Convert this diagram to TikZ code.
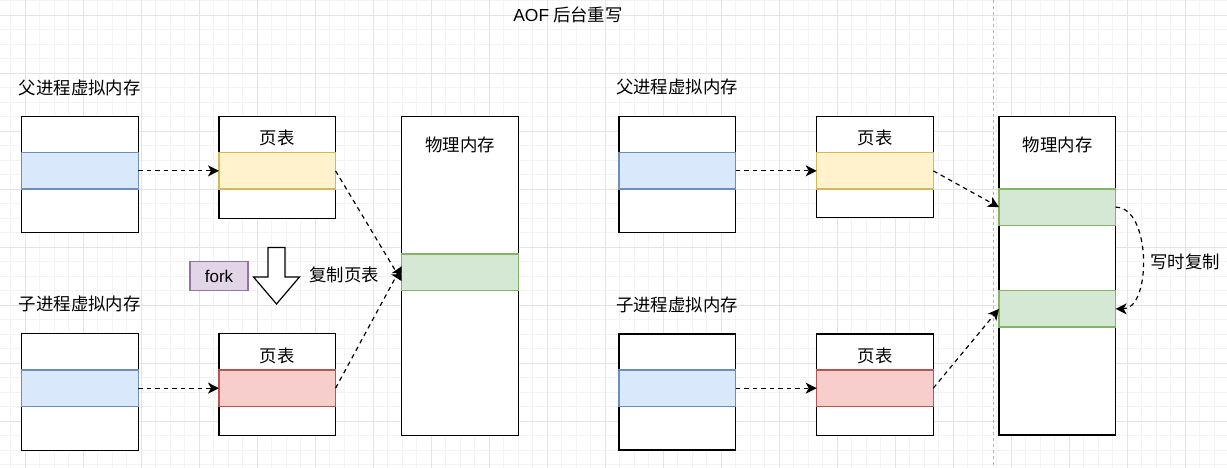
\documentclass[tikz,border=0pt]{standalone}
\usepackage{fontspec}
\setmainfont{Noto Sans CJK SC}
\newfontfamily\lat{Liberation Sans}
\usetikzlibrary{arrows.meta,calc}
\definecolor{gridminor}{HTML}{F3F3F3}
\definecolor{gridmajor}{HTML}{E4E4E4}
\definecolor{bluef}{HTML}{DAE8FC}\definecolor{blues}{HTML}{6C8EBF}
\definecolor{yelf}{HTML}{FFF2CC}\definecolor{yels}{HTML}{D6B656}
\definecolor{redf}{HTML}{F8CECC}\definecolor{reds}{HTML}{B85450}
\definecolor{grnf}{HTML}{D5E8D4}\definecolor{grns}{HTML}{82B366}
\definecolor{purf}{HTML}{E1D5E7}\definecolor{purs}{HTML}{9673A6}
\tikzset{
  base/.style={font=\fontsize{17.4}{20}\selectfont, inner sep=0pt, outer sep=0pt},
  box/.style={base, draw=black, fill=white, line width=1.2pt, minimum width=116.6pt, anchor=north west},
  strip/.style={base, line width=1.2pt, minimum width=116.6pt, minimum height=36.3pt, anchor=north west},
  bluestrip/.style={strip, draw=blues, fill=bluef},
  yelstrip/.style={strip, draw=yels, fill=yelf},
  redstrip/.style={strip, draw=reds, fill=redf},
  grnstrip/.style={strip, draw=grns, fill=grnf},
  lbl/.style={base, anchor=west},
  ctext/.style={base},
  link/.style={dashed, dash pattern=on 4.5pt off 4pt, line width=1.2pt, -{Stealth[length=11pt,width=11pt,inset=3pt]}},
}
\begin{document}
\begin{tikzpicture}[x=1pt,y=-1pt]
\useasboundingbox (0,0) rectangle (1227,468);
\fill[white] (0,0) rectangle (1227,468);
% grid
\foreach \i in {0,...,84} \draw[gridminor, line width=0.8pt] ({10.5+14.5*\i},0) -- ++(0,468);
\foreach \i in {0,...,32} \draw[gridminor, line width=0.8pt] (0,{0.5+14.5*\i}) -- ++(1227,0);
\foreach \i in {0,...,20} \draw[gridmajor, line width=0.8pt] ({25+58*\i},0) -- ++(0,468);
\foreach \i in {0,...,7} \draw[gridmajor, line width=0.8pt] (0,{15+58*\i}) -- ++(1227,0);
% separator
\draw[gray!60, line width=0.7pt, dash pattern=on 3pt off 3pt] (993,0) -- (993,468);

% title
\node[ctext] (title) at (568,15) {{\lat AOF} 后台重写};

% ===== left panel =====
\node[lbl] (lpl) at (19,88) {父进程虚拟内存};
\node[box, minimum height=115.6pt] (lpv) at (21.7,116.7) {};
\node[bluestrip] (lpvs) at (21.7,152.7) {};
\node[box, minimum height=101.6pt] (lpt) at (219,116.7) {};
\node[ctext] (lptl) at (277,138.3) {页表};
\node[yelstrip] (lpts) at (219,152.7) {};

\node[box, minimum height=318.6pt] (lpm) at (401.7,116.7) {};
\node[ctext] (lpml) at (460,145) {物理内存};
\node[grnstrip] (lg) at (401.7,254) {};

\node[base, draw=purs, fill=purf, line width=1.2pt, minimum width=58pt, minimum height=29pt, font=\lat\fontsize{17}{20}\selectfont] (fork) at (219,276) {fork};
\draw[line width=1.2pt, fill=white] (268,247.5) -- (285,247.5) -- (285,277) -- (299.5,277) -- (276.5,304) -- (253.5,277) -- (268,277) -- cycle;
\node[ctext] (copy) at (344,275) {复制页表};

\node[lbl] (lcl) at (19,304) {子进程虚拟内存};
\node[box, minimum height=116.6pt] (lcv) at (21.7,333.5) {};
\node[bluestrip] (lcvs) at (21.7,370) {};
\node[box, minimum height=102pt] (lct) at (219,333.5) {};
\node[ctext] (lctl) at (277,356) {页表};
\node[redstrip] (lcts) at (219,370) {};

\draw[link] (lpvs.east) -- (lpts.west);
\draw[link] (lcvs.east) -- (lcts.west);
\draw[link] (lpts.east) -- ($(lg.west)+(0,9)$);
\draw[link] (lcts.east) -- ($(lg.west)+(0,-6)$);

% ===== right panel =====
\node[lbl] (rpl) at (616,87) {父进程虚拟内存};
\node[box, minimum height=115.6pt] (rpv) at (619,116.7) {};
\node[bluestrip] (rpvs) at (619,152.7) {};
\node[box, minimum height=101pt] (rpt) at (816.7,116.7) {};
\node[ctext] (rptl) at (875,138.3) {页表};
\node[yelstrip] (rpts) at (816.7,152.7) {};

\node[box, minimum height=318.3pt] (rpm) at (999,116.7) {};
\node[ctext] (rpml) at (1057.7,145) {物理内存};
\node[grnstrip] (rg1) at (999,189) {};
\node[grnstrip] (rg2) at (999,290.7) {};

\node[lbl] (rcl) at (616,305) {子进程虚拟内存};
\node[box, minimum height=116pt] (rcv) at (619,334) {};
\node[bluestrip] (rcvs) at (619,370) {};
\node[box, minimum height=101.3pt] (rct) at (816.7,334) {};
\node[ctext] (rctl) at (875,356) {页表};
\node[redstrip] (rcts) at (816.7,370) {};

\draw[link] (rpvs.east) -- (rpts.west);
\draw[link] (rcvs.east) -- (rcts.west);
\draw[link] (rpts.east) -- (rg1.west);
\draw[link] (rcts.east) -- (rg2.west);
\draw[link] (rg1.east) .. controls +(36,0) and +(36,0) .. (rg2.east);
\node[ctext] (cow) at (1185,262) {写时复制};
\end{tikzpicture}
\end{document}
